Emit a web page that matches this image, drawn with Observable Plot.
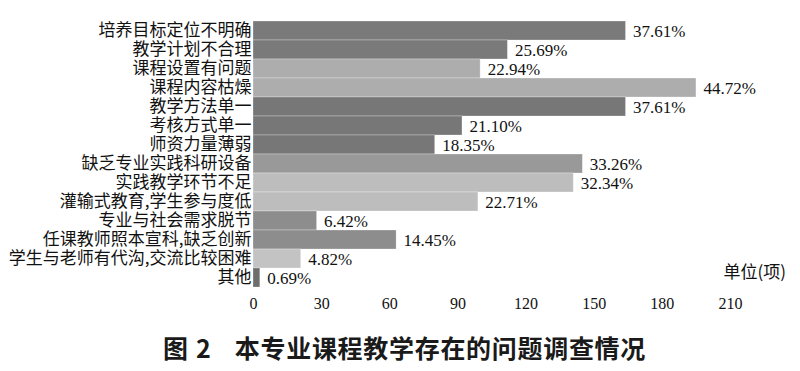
<!DOCTYPE html>
<html>
<head>
<meta charset="utf-8">
<script src="https://cdn.jsdelivr.net/npm/d3@7"></script>
<script src="https://cdn.jsdelivr.net/npm/@observablehq/plot@0.6"></script>
<style>
  html, body { margin: 0; padding: 0; background: #fff; }
  #wrap { position: relative; width: 800px; height: 371px; overflow: hidden; }
  #caption {
    position: absolute; left: 163px; top: 332px; line-height: 30px;
    font-family: "Noto Sans CJK SC", sans-serif; font-weight: bold; font-size: 25px;
    color: #1a1a1a; white-space: nowrap;
  }
</style>
</head>
<body>
<div id="wrap">
  <div id="chart"></div>
  <div id="caption"><span>图</span><span style="margin-left:8px">2</span><span style="margin-left:24px;letter-spacing:0.7px">本专业课程教学存在的问题调查情况</span></div>
</div>
<script>
const categories = [
  "培养目标定位不明确",
  "教学计划不合理",
  "课程设置有问题",
  "课程内容枯燥",
  "教学方法单一",
  "考核方式单一",
  "师资力量薄弱",
  "缺乏专业实践科研设备",
  "实践教学环节不足",
  "灌输式教育,学生参与度低",
  "专业与社会需求脱节",
  "任课教师照本宣科,缺乏创新",
  "学生与老师有代沟,交流比较困难",
  "其他"
];
const counts = [164, 112, 100, 195, 164, 92, 80, 145, 141, 99, 28, 63, 21, 3];
const percents = ["37.61%", "25.69%", "22.94%", "44.72%", "37.61%", "21.10%", "18.35%",
                  "33.26%", "32.34%", "22.71%", "6.42%", "14.45%", "4.82%", "0.69%"];
const xTicks = [0, 30, 60, 90, 120, 150, 180, 210];
const unitLabel = ["单位(项)"];

const barColors = ["#7a7a7a", "#7a7a7a", "#adadad", "#adadad", "#777777", "#777777", "#777777",
                   "#999999", "#bdbdbd", "#bdbdbd", "#8d8d8d", "#8d8d8d", "#c3c3c3", "#6e6e6e"];

const rows = categories.map((c, i) => ({category: c, count: counts[i], pct: percents[i]}));

const chart = Plot.plot({
  width: 800,
  height: 322,
  marginTop: 17,
  marginBottom: 32,
  marginLeft: 253,
  marginRight: 70,
  style: {background: "#fff", color: "#111"},
  x: {domain: [0, 210], ticks: xTicks, axis: null},
  y: {domain: categories, padding: 0, axis: null},
  color: {domain: categories, range: barColors},
  marks: [
    Plot.barX(rows, {y: "category", x: "count", fill: "category", stroke: "#ffffff", strokeOpacity: 0.35, strokeWidth: 0.8}),
    Plot.text(rows, {y: "category", x: "count", text: "pct", textAnchor: "start", dx: 7, dy: 1,
      fontFamily: "Liberation Serif, serif", fontSize: 17, fill: "#111"}),
    Plot.axisY({tickSize: 0, tickPadding: 2, fontFamily: "Noto Sans CJK SC, sans-serif", fontSize: 17, label: null}),
    Plot.axisX({ticks: xTicks, tickSize: 0, tickPadding: 7, fontFamily: "Liberation Serif, serif", fontSize: 16, label: null, tickFormat: d => String(d)}),
    Plot.text(unitLabel, {frameAnchor: "bottom-right", text: d => d, textAnchor: "start", dx: -7, dy: -13,
      fontFamily: "Noto Sans CJK SC, sans-serif", fontSize: 17, fill: "#111"})
  ]
});
document.getElementById("chart").appendChild(chart);
</script>
</body>
</html>
